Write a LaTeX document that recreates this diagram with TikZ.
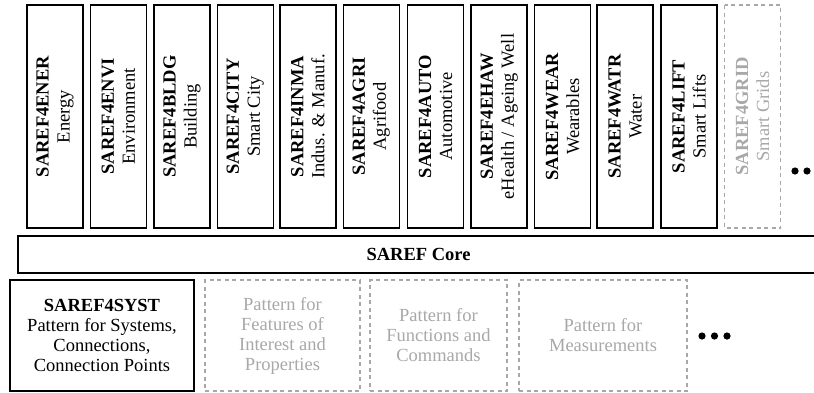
\documentclass[tikz,border=0pt]{standalone}
\usepackage{fontspec}
\setmainfont{Liberation Serif}
\definecolor{ghost}{HTML}{A8A8A8}
\tikzset{
  txt/.style={font=\fontsize{18.5}{21}\selectfont, align=center, inner sep=0pt},
  ext/.style={txt, draw, line width=1.5pt, rotate=90, minimum width=223pt, minimum height=56pt},
  ghostline/.style={draw=ghost, text=ghost, line width=1.1pt, dash pattern=on 4pt off 3.5pt},
  ghostext/.style={ext, ghostline},
  corebox/.style={txt, draw, line width=1.8pt, minimum width=801pt, minimum height=37pt},
  patbox/.style={txt, draw, line width=1.5pt, minimum height=111pt, font=\fontsize{18.5}{20}\selectfont},
  ghostpat/.style={patbox, ghostline},
  dot/.style={fill=black}
}
\begin{document}
\begin{tikzpicture}[x=1pt,y=-1pt]
\useasboundingbox (0,0) rectangle (814,392);
\clip (0,0) rectangle (814,392);
\node[ext] (ener) at (55.0,116.5) {\textbf{SAREF4ENER}\\Energy};
\node[ext] (envi) at (118.45,116.5) {\textbf{SAREF4ENVI}\\Environment};
\node[ext] (bldg) at (181.9,116.5) {\textbf{SAREF4BLDG}\\Building};
\node[ext] (city) at (245.35,116.5) {\textbf{SAREF4CITY}\\Smart City};
\node[ext] (inma) at (307.8,116.5) {\textbf{SAREF4INMA}\\Indus. \& Manuf.};
\node[ext] (agri) at (371.25,116.5) {\textbf{SAREF4AGRI}\\Agrifood};
\node[ext] (auto) at (435.7,116.5) {\textbf{SAREF4AUTO}\\Automotive};
\node[ext] (ehaw) at (499.15,116.5) {\textbf{SAREF4EHAW}\\eHealth / Ageing Well};
\node[ext] (wear) at (562.6,116.5) {\textbf{SAREF4WEAR}\\Wearables};
\node[ext] (watr) at (625.05,116.5) {\textbf{SAREF4WATR}\\Water};
\node[ext] (lift) at (689.0,116.5) {\textbf{SAREF4LIFT}\\Smart Lifts};
\node[ghostext] (grid) at (752.5,116.5) {\textbf{SAREF4GRID}\\Smart Grids};
\fill[dot] (795,171) circle (3.6pt);
\fill[dot] (807,171) circle (3.6pt);
\fill[dot] (819,171) circle (3.6pt);
\node[corebox] (core) at (418.5,254.5) {\textbf{SAREF Core}};
\node[patbox, minimum width=184pt] (syst) at (102,335.5) {\textbf{SAREF4SYST}\\Pattern for Systems,\\Connections,\\Connection Points};
\node[ghostpat, minimum width=155pt] (feat) at (282.5,335.5) {Pattern for\\Features of\\Interest and\\Properties};
\node[ghostpat, minimum width=137pt] (func) at (438.5,335.5) {Pattern for\\Functions and\\Commands};
\node[ghostpat, minimum width=168pt] (meas) at (603,335.5) {Pattern for\\Measurements};
\fill[dot] (702,336) circle (3.6pt);
\fill[dot] (714.5,336) circle (3.6pt);
\fill[dot] (727,336) circle (3.6pt);
\end{tikzpicture}
\end{document}
